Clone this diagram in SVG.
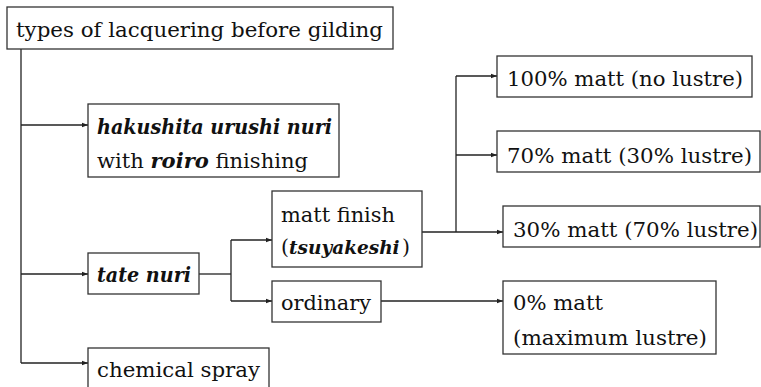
<svg xmlns="http://www.w3.org/2000/svg" width="761" height="387" viewBox="0 0 761 387">
<defs>
<marker id="ah" viewBox="0 0 6 6" refX="6" refY="3" markerWidth="6" markerHeight="6" markerUnits="userSpaceOnUse" orient="auto">
<path d="M0,0.8 L6,3 L0,5.2 Z" fill="#222"/>
</marker>
</defs>
<style>
.box{fill:#fff;stroke:#333;stroke-width:1.3}
.t{font-family:'DejaVu Serif','Liberation Serif',serif;font-size:20.5px;fill:#111}
.i{font-style:italic;font-weight:bold}
.c{fill:none;stroke:#222;stroke-width:1.3}
</style>
<rect width="761" height="387" fill="#fff"/>
<g id="connectors">
<path class="c" d="M21,49 V363"/>
<path class="c" d="M21,125 H88" marker-end="url(#ah)"/>
<path class="c" d="M21,274 H88" marker-end="url(#ah)"/>
<path class="c" d="M21,363 H88" marker-end="url(#ah)"/>
<path class="c" d="M199,274 H231"/>
<path class="c" d="M231,240 V301"/>
<path class="c" d="M231,240 H272" marker-end="url(#ah)"/>
<path class="c" d="M231,301 H272" marker-end="url(#ah)"/>
<path class="c" d="M381,301 H503" marker-end="url(#ah)"/>
<path class="c" d="M422,232 H503" marker-end="url(#ah)"/>
<path class="c" d="M456,76 V232"/>
<path class="c" d="M456,76 H497" marker-end="url(#ah)"/>
<path class="c" d="M456,155 H497" marker-end="url(#ah)"/>
</g>
<g id="title">
<rect class="box" x="7" y="7" width="386" height="42"/>
<text class="t" x="16" y="37" textLength="367" lengthAdjust="spacingAndGlyphs">types of lacquering before gilding</text>
</g>
<g id="hakushita">
<rect class="box" x="88" y="104" width="251" height="73"/>
<text class="t i" x="97" y="134" textLength="235" lengthAdjust="spacingAndGlyphs">hakushita urushi nuri</text>
<text class="t" x="97" y="168" textLength="211" lengthAdjust="spacingAndGlyphs">with <tspan class="i">roiro</tspan> finishing</text>
</g>
<g id="tatenuri">
<rect class="box" x="88" y="253" width="111" height="41"/>
<text class="t i" x="97" y="282" textLength="94" lengthAdjust="spacingAndGlyphs">tate nuri</text>
</g>
<g id="chemical">
<rect class="box" x="88" y="348" width="181" height="42"/>
<text class="t" x="97" y="377" textLength="163" lengthAdjust="spacingAndGlyphs">chemical spray</text>
</g>
<g id="mattfinish">
<rect class="box" x="272" y="191" width="150" height="76"/>
<text class="t" x="281" y="222" textLength="114" lengthAdjust="spacingAndGlyphs">matt finish</text>
<text class="t" x="281" y="254">(</text>
<text class="t i" x="289" y="254" style="font-size:18.5px">tsuyakeshi</text>
<text class="t" x="402" y="254">)</text>
</g>
<g id="ordinary">
<rect class="box" x="272" y="281" width="109" height="41"/>
<text class="t" x="281" y="310" textLength="90" lengthAdjust="spacingAndGlyphs">ordinary</text>
</g>
<g id="m100">
<rect class="box" x="497" y="56" width="255" height="41"/>
<text class="t" x="507" y="86" textLength="236" lengthAdjust="spacingAndGlyphs">100% matt (no lustre)</text>
</g>
<g id="m70">
<rect class="box" x="497" y="131" width="263" height="41"/>
<text class="t" x="507" y="163" textLength="245" lengthAdjust="spacingAndGlyphs">70% matt (30% lustre)</text>
</g>
<g id="m30">
<rect class="box" x="503" y="206" width="257" height="41"/>
<text class="t" x="513" y="237" textLength="245" lengthAdjust="spacingAndGlyphs">30% matt (70% lustre)</text>
</g>
<g id="m0">
<rect class="box" x="503" y="281" width="213" height="73"/>
<text class="t" x="513" y="310" textLength="90" lengthAdjust="spacingAndGlyphs">0% matt</text>
<text class="t" x="513" y="345" textLength="194" lengthAdjust="spacingAndGlyphs">(maximum lustre)</text>
</g>
</svg>
